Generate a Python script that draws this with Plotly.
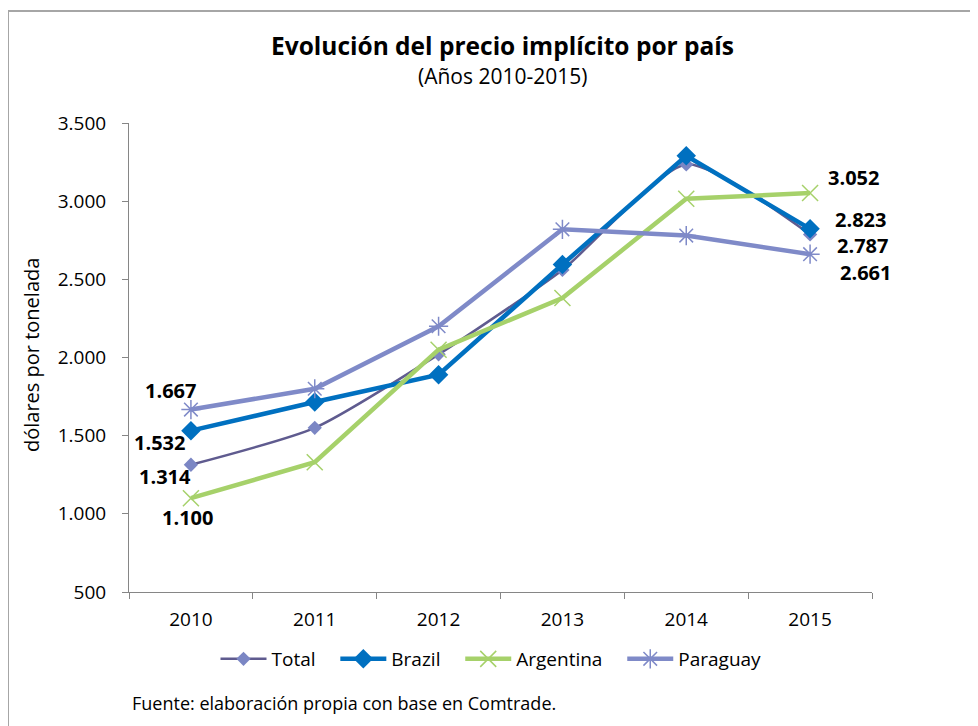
import plotly.graph_objects as go

years = ["2010", "2011", "2012", "2013", "2014", "2015"]
series_names = ["Total", "Brazil", "Argentina", "Paraguay"]
total = [1314, 1550, 2020, 2560, 3235, 2787]
brazil = [1532, 1715, 1890, 2595, 3290, 2823]
argentina = [1100, 1330, 2050, 2380, 3015, 3052]
paraguay = [1667, 1800, 2200, 2820, 2780, 2661]

FONT = "Open Sans"
OFF = 8  # page body margin
W, H = 978 - OFF, 726 - OFF
L, T, PW, PH = 129 - OFF, 123 - OFF, 743, 469
PAD = "&nbsp;" * 3

def px(xp):
    return (xp - OFF - L) / PW

def py(yp):
    return (T + PH - (yp - OFF)) / PH

fig = go.Figure()
fig.add_trace(go.Scatter(
    x=years, y=total, name=series_names[0] + PAD, mode="lines+markers",
    line=dict(color="#5F5B8F", width=2.5, shape="spline", smoothing=0.6),
    marker=dict(symbol="diamond", size=11, color="#7B86C4"),
))
fig.add_trace(go.Scatter(
    x=years, y=brazil, name=series_names[1] + PAD, mode="lines+markers",
    line=dict(color="#0070C0", width=4.5),
    marker=dict(symbol="diamond", size=15, color="#0070C0"),
))
fig.add_trace(go.Scatter(
    x=years, y=argentina, name=series_names[2] + PAD, mode="lines+markers",
    line=dict(color="#A6D16A", width=4.5),
    marker=dict(symbol="x-thin-open", size=16, color="#A6D16A",
                line=dict(color="#A6D16A", width=1.5)),
))
fig.add_trace(go.Scatter(
    x=years, y=paraguay, name=series_names[3], mode="lines+markers",
    line=dict(color="#7F8AC8", width=4.5),
    marker=dict(symbol="asterisk-open", size=16, color="#7F8AC8",
                line=dict(color="#7F8AC8", width=1.5)),
))

def lab(xi, yv, dx, dy):
    txt = f"{yv:,}".replace(",", ".")
    fig.add_annotation(x=xi, y=yv, xref="x", yref="y", text=f"<b>{txt}</b>",
                       showarrow=False, xshift=dx, yshift=dy,
                       font=dict(family=FONT, size=20, color="#000000"))

lab(0, paraguay[0], -20, 19)
lab(0, brazil[0], -31, -12)
lab(0, total[0], -26, -12)
lab(0, argentina[0], -3, -19)
lab(5, argentina[5], 43, 16)
lab(5, brazil[5], 50, 9)
lab(5, total[5], 52, -11)
lab(5, paraguay[5], 55, -18)

fig.add_annotation(xref="paper", yref="paper", x=px(31), y=py(355),
                   xanchor="center", yanchor="middle",
                   text="dólares por tonelada", textangle=-90, showarrow=False,
                   font=dict(family=FONT, size=20, color="#000000"))
fig.add_annotation(xref="paper", yref="paper", x=px(130), y=py(703),
                   xanchor="left", yanchor="middle",
                   text="Fuente: elaboración propia con base en Comtrade.", showarrow=False,
                   font=dict(family=FONT, size=18, color="#000000"))
fig.add_annotation(xref="paper", yref="paper", x=px(502), y=py(45),
                   xanchor="center", yanchor="middle",
                   text="<b>Evolución del precio implícito por país</b>", showarrow=False,
                   font=dict(family=FONT, size=24.5, color="#000000"))
fig.add_annotation(xref="paper", yref="paper", x=px(502), y=py(76),
                   xanchor="center", yanchor="middle",
                   text="(Años 2010-2015)", showarrow=False,
                   font=dict(family=FONT, size=21, color="#000000"))

fig.add_shape(type="rect", xref="paper", yref="paper",
              x0=px(8), x1=1.3, y0=-0.5, y1=py(11),
              line=dict(color="#A6A6A6", width=2), layer="below")

fig.update_layout(
    width=W, height=H,
    margin=dict(l=L, r=W - L - PW, t=T, b=H - T - PH, autoexpand=False),
    paper_bgcolor="white", plot_bgcolor="white",
    separators=",.",
    font=dict(family=FONT, size=19, color="#000000"),
    showlegend=True,
    legend=dict(orientation="h", xref="container", yref="container",
                x=(491 - OFF) / W, xanchor="center", y=1 - (640 - OFF) / H, yanchor="top",
                font=dict(family=FONT, size=19), itemwidth=46,
                traceorder="normal", bgcolor="rgba(0,0,0,0)"),
    xaxis=dict(type="category", tickson="boundaries", ticks="outside", ticklen=6,
               tickcolor="#868686", showline=True, linecolor="#868686", linewidth=1,
               showgrid=False, zeroline=False, range=[-0.5, 5.5], ticklabelstandoff=10,
               tickfont=dict(family=FONT, size=19)),
    yaxis=dict(range=[500, 3500], dtick=500, tickformat=",d", ticks="outside", ticklen=6,
               tickcolor="#868686", showline=True, linecolor="#868686", linewidth=1,
               showgrid=False, zeroline=False, ticklabelstandoff=12,
               tickfont=dict(family=FONT, size=19)),
)

fig.write_html("out.html")
